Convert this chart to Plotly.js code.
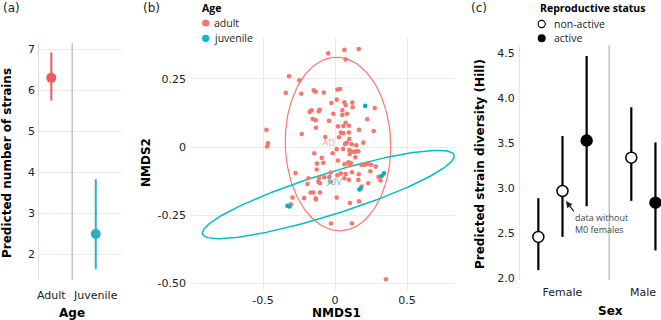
<!DOCTYPE html>
<html>
<head>
<meta charset="utf-8">
<script src="https://cdn.plot.ly/plotly-3.0.1.min.js"></script>
<style>
  html, body { margin: 0; padding: 0; background: #fff; }
  #chart { width: 661px; height: 320px; }
</style>
</head>
<body>
<div id="chart"></div>
<script>
// ---------- (a) predicted number of strains by age class ----------
const ageGroups   = ['Adult', 'Juvenile'];
const ageEstimate = [6.30, 2.49];
const ageLower    = [5.75, 1.63];
const ageUpper    = [6.92, 3.83];

// ---------- (b) NMDS ordination scores ----------
const adultNMDS1 = [-0.047,0.065,0.165,0.074,-0.319,-0.248,-0.342,-0.234,-0.148,-0.134,
  -0.078,0.016,0.035,0.012,-0.026,0.065,0.074,0.120,0.123,0.276,
  -0.162,-0.176,-0.113,-0.106,-0.012,0.051,0.051,0.083,0.224,-0.155,
  -0.134,-0.042,0.021,0.058,0.074,0.097,-0.132,0.167,0.269,-0.476,
  -0.465,-0.472,-0.231,-0.068,0.040,0.058,0.028,0.097,0.099,0.069,
  0.081,0.116,0.148,0.197,0.056,0.099,0.116,0.134,0.148,0.162,
  0.102,0.141,0.012,-0.016,-0.144,-0.092,0.021,-0.125,-0.081,0.066,
  0.092,0.104,0.111,0.183,0.205,0.226,0.250,0.283,-0.127,-0.274,
  -0.030,0.040,0.074,0.118,0.165,0.245,-0.185,-0.111,0.016,0.065,
  0.097,0.162,-0.116,-0.104,-0.030,0.231,0.303,-0.191,0.185,0.316,
  -0.040,-0.074,-0.169,-0.151,-0.104,-0.295,-0.215,-0.134,-0.132,0.012,
  0.104,0.167,-0.306,-0.028,0.118,0.354];
const adultNMDS2 = [0.344,0.357,0.360,0.322,0.260,0.245,0.199,0.196,0.208,0.203,
  0.200,0.211,0.213,0.174,0.162,0.164,0.154,0.163,0.146,0.143,
  0.135,0.129,0.131,0.137,0.122,0.135,0.118,0.122,0.102,0.103,
  0.098,0.096,0.076,0.077,0.089,0.078,0.071,0.063,0.059,0.063,
  0.014,0.002,0.048,0.037,0.053,0.051,0.036,0.053,0.029,0.011,
  0.015,0.010,0.006,0.016,-0.007,-0.011,-0.017,-0.018,-0.016,-0.016,
  -0.026,-0.038,-0.008,-0.023,-0.023,-0.040,-0.050,-0.061,-0.058,-0.063,
  -0.056,-0.067,-0.059,-0.065,-0.065,-0.062,-0.065,-0.072,-0.083,-0.096,
  -0.094,-0.097,-0.099,-0.093,-0.100,-0.089,-0.115,-0.114,-0.104,-0.115,
  -0.121,-0.121,-0.128,-0.133,-0.128,-0.133,-0.110,-0.136,-0.145,-0.123,
  -0.110,-0.111,-0.167,-0.167,-0.167,-0.186,-0.188,-0.189,-0.193,-0.186,
  -0.206,-0.200,-0.211,-0.281,-0.281,-0.486];
const juvenileNMDS1 = [0.210,0.170,0.177,0.324,0.340,-0.330,-0.315,-0.323];
const juvenileNMDS2 = [0.151,-0.156,-0.153,-0.107,-0.097,-0.216,-0.219,-0.217];

// group ellipses: centre plus the two conjugate semi-axis vectors
const adultEllipse    = { centre: [0.021, 0.011],    axisA: [0.366, 0.000], axisB: [-0.011, 0.319] };
const juvenileEllipse = { centre: [-0.0465, -0.1746], axisA: [0.873, 0.145], axisB: [0.0433, -0.0729] };
const groupLabels     = ['AD', 'JUV'];
const groupLabelNMDS1 = [-0.044, -0.005];
const groupLabelNMDS2 = [0.0136, -0.131];

// ---------- (c) predicted Hill diversity by sex and reproductive status ----------
const sexGroups    = ['Female', 'Male'];
const hillSex      = ['Female', 'Female', 'Female', 'Male', 'Male'];
const hillStatus   = ['non-active', 'non-active', 'active', 'non-active', 'active'];
const hillDodge    = [-0.30, 0.00, 0.30, -0.145, 0.155];
const hillEstimate = [2.46, 2.97, 3.53, 3.34, 2.84];
const hillLower    = [2.09, 2.46, 2.80, 2.86, 2.31];
const hillUpper    = [2.89, 3.58, 4.47, 3.90, 3.51];

// ---------- helpers ----------
const W = 661, H = 320;
const px = v => v / W;          // horizontal pixel -> paper
const py = v => 1 - v / H;      // vertical pixel -> paper

function ellipseTrace(e, n) {
  const xs = [], ys = [];
  for (let i = 0; i <= n; i++) {
    const t = 2 * Math.PI * i / n;
    xs.push(e.centre[0] + Math.cos(t) * e.axisA[0] + Math.sin(t) * e.axisB[0]);
    ys.push(e.centre[1] + Math.cos(t) * e.axisA[1] + Math.sin(t) * e.axisB[1]);
  }
  return { x: xs, y: ys };
}

const RED_A = '#F35B5B', BLUE_A = '#2AAFCB';
const RED_B = '#F8766D', CYAN_B = '#00BFC4';
const TICKFONT = { family: 'DejaVu Sans', size: 11, color: '#222' };
const SANS = 'Open Sans';

const traces = [];

// (a)
const ageColours = [RED_A, BLUE_A];
ageGroups.forEach((g, i) => {
  traces.push({
    type: 'scatter', mode: 'markers', xaxis: 'x', yaxis: 'y',
    x: [i + 1], y: [ageEstimate[i]],
    marker: { color: ageColours[i], size: 10 },
    error_y: { type: 'data', symmetric: false,
      array: [ageUpper[i] - ageEstimate[i]], arrayminus: [ageEstimate[i] - ageLower[i]],
      width: 0, thickness: 2, color: ageColours[i] },
    showlegend: false, hoverinfo: 'skip'
  });
});

// (b) ellipses, then points
const adE = ellipseTrace(adultEllipse, 160);
const juE = ellipseTrace(juvenileEllipse, 200);
traces.push({ type: 'scatter', mode: 'lines', xaxis: 'x2', yaxis: 'y2', x: adE.x, y: adE.y,
  line: { color: RED_B, width: 1.2 }, showlegend: false, hoverinfo: 'skip' });
traces.push({ type: 'scatter', mode: 'lines', xaxis: 'x2', yaxis: 'y2', x: juE.x, y: juE.y,
  line: { color: CYAN_B, width: 1.5 }, showlegend: false, hoverinfo: 'skip' });
traces.push({ type: 'scatter', mode: 'markers', xaxis: 'x2', yaxis: 'y2',
  x: adultNMDS1, y: adultNMDS2, marker: { color: RED_B, size: 4.6 }, showlegend: false, hoverinfo: 'skip' });
traces.push({ type: 'scatter', mode: 'markers', xaxis: 'x2', yaxis: 'y2',
  x: juvenileNMDS1, y: juvenileNMDS2, marker: { color: '#00B3B8', size: 4.6 }, showlegend: false, hoverinfo: 'skip' });
traces.push({ type: 'scatter', mode: 'text', xaxis: 'x2', yaxis: 'y2',
  x: groupLabelNMDS1, y: groupLabelNMDS2, text: groupLabels,
  textfont: { family: SANS, size: 9, color: ['#F9A29B', '#45C9CC'] },
  showlegend: false, hoverinfo: 'skip' });

// (c)
['non-active', 'active'].forEach(status => {
  const idx = hillStatus.map((s, i) => s === status ? i : -1).filter(i => i >= 0);
  traces.push({
    type: 'scatter', mode: 'markers', xaxis: 'x3', yaxis: 'y3',
    x: idx.map(i => sexGroups.indexOf(hillSex[i]) + 1 + hillDodge[i]),
    y: idx.map(i => hillEstimate[i]),
    marker: { size: 11, color: status === 'active' ? '#000' : '#fff', line: { color: '#000', width: 1.5 } },
    error_y: { type: 'data', symmetric: false,
      array: idx.map(i => hillUpper[i] - hillEstimate[i]),
      arrayminus: idx.map(i => hillEstimate[i] - hillLower[i]),
      width: 0, thickness: 2.2, color: '#000' },
    showlegend: false, hoverinfo: 'skip'
  });
});

const grid = '#ebebeb';
const layout = {
  width: W, height: H,
  margin: { l: 0, r: 0, t: 0, b: 0 },
  paper_bgcolor: '#fff', plot_bgcolor: '#fff',
  font: { family: 'DejaVu Sans', size: 11, color: '#222' },
  showlegend: false,
  // (a)
  xaxis: { domain: [px(39.3), px(122)], range: [0.73, 2.59], tickvals: [1, 2], ticktext: ageGroups,
    showgrid: false, zeroline: false, ticks: '', ticklabelstandoff: 7, tickfont: TICKFONT, fixedrange: true },
  yaxis: { domain: [py(280), py(43)], range: [1.37, 7.15], tickvals: [2, 3, 4, 5, 6, 7],
    showgrid: true, gridcolor: grid, gridwidth: 1, zeroline: false, ticks: '', ticklabelstandoff: 1,
    showline: true, linecolor: '#dcdcdc', linewidth: 1, tickfont: TICKFONT, fixedrange: true },
  // (b)
  xaxis2: { anchor: 'y2', domain: [px(190), px(455)], range: [-1.0069, 0.8333],
    tickvals: [-0.5, 0, 0.5], ticktext: ['-0.5', '0', '0.5'], ticklabelstandoff: 2,
    showgrid: true, gridcolor: grid, zeroline: false, ticks: '', tickfont: TICKFONT, fixedrange: true },
  yaxis2: { anchor: 'x2', domain: [py(290), py(38)], range: [-0.5257, 0.4007],
    tickvals: [-0.5, -0.25, 0, 0.25], ticktext: ['-0.50', '-0.25', '0', '0.25'], ticklabelstandoff: 3,
    showgrid: true, gridcolor: grid, zeroline: false, ticks: '', tickfont: TICKFONT, fixedrange: true },
  // (c)
  xaxis3: { anchor: 'y3', domain: [px(520), 1], range: [0.472, 2.224], tickvals: [1, 2], ticktext: sexGroups,
    showgrid: false, zeroline: false, ticks: '', ticklabelstandoff: 4, tickfont: TICKFONT, fixedrange: true },
  yaxis3: { anchor: 'x3', domain: [py(280), py(45)], range: [1.981, 4.592],
    tickvals: [2, 2.5, 3, 3.5, 4, 4.5], tickformat: '.1f', ticklabelstandoff: 2,
    showgrid: false, zeroline: false, ticks: '', showline: true, linecolor: '#e4e4e4', linewidth: 1,
    tickfont: TICKFONT, fixedrange: true },
  shapes: [
    // category separators
    { type: 'line', xref: 'x', yref: 'y domain', x0: 1.47, x1: 1.47, y0: 0, y1: 1,
      line: { color: '#b5b5b5', width: 1.2 } },
    { type: 'line', xref: 'x3', yref: 'y3 domain', x0: 1.58, x1: 1.58, y0: 0, y1: 1,
      line: { color: '#b5b5b5', width: 1.2 } },
    // legend keys
    { type: 'circle', xref: 'paper', yref: 'paper', xsizemode: 'pixel', ysizemode: 'pixel',
      xanchor: px(205.7), yanchor: py(23), x0: -3.6, x1: 3.6, y0: -3.6, y1: 3.6,
      fillcolor: RED_B, line: { width: 0 } },
    { type: 'circle', xref: 'paper', yref: 'paper', xsizemode: 'pixel', ysizemode: 'pixel',
      xanchor: px(205.7), yanchor: py(38.3), x0: -3.6, x1: 3.6, y0: -3.6, y1: 3.6,
      fillcolor: CYAN_B, line: { width: 0 } },
    { type: 'circle', xref: 'paper', yref: 'paper', xsizemode: 'pixel', ysizemode: 'pixel',
      xanchor: px(541.7), yanchor: py(24), x0: -3.6, x1: 3.6, y0: -3.6, y1: 3.6,
      fillcolor: '#fff', line: { color: '#000', width: 1.1 } },
    { type: 'circle', xref: 'paper', yref: 'paper', xsizemode: 'pixel', ysizemode: 'pixel',
      xanchor: px(541.7), yanchor: py(38.3), x0: -4, x1: 4, y0: -4, y1: 4,
      fillcolor: '#000', line: { width: 0 } }
  ],
  annotations: [
    // panel tags
    { text: '(a)', xref: 'paper', yref: 'paper', x: px(0.5), y: py(7.5), xanchor: 'left', yanchor: 'middle',
      showarrow: false, font: { family: 'DejaVu Sans', size: 12, color: '#222' } },
    { text: '(b)', xref: 'paper', yref: 'paper', x: px(141), y: py(7.5), xanchor: 'left', yanchor: 'middle',
      showarrow: false, font: { family: 'DejaVu Sans', size: 12, color: '#222' } },
    { text: '(c)', xref: 'paper', yref: 'paper', x: px(469), y: py(7.5), xanchor: 'left', yanchor: 'middle',
      showarrow: false, font: { family: 'DejaVu Sans', size: 12, color: '#222' } },
    // axis titles
    { text: '<b>Predicted number of strains</b>', xref: 'paper', yref: 'paper', x: px(7), y: py(163),
      xanchor: 'center', yanchor: 'middle', textangle: -90, showarrow: false,
      font: { family: 'DejaVu Sans', size: 12, color: '#000' } },
    { text: '<b>Age</b>', xref: 'paper', yref: 'paper', x: px(72), y: py(312.5),
      xanchor: 'center', yanchor: 'middle', showarrow: false, font: { family: 'DejaVu Sans', size: 12, color: '#000' } },
    { text: '<b>NMDS2</b>', xref: 'paper', yref: 'paper', x: px(146), y: py(163),
      xanchor: 'center', yanchor: 'middle', textangle: -90, showarrow: false,
      font: { family: 'DejaVu Sans', size: 12, color: '#000' } },
    { text: '<b>NMDS1</b>', xref: 'paper', yref: 'paper', x: px(336.5), y: py(313),
      xanchor: 'center', yanchor: 'middle', showarrow: false, font: { family: 'DejaVu Sans', size: 12, color: '#000' } },
    { text: '<b>Predicted strain diversity (Hill)</b>', xref: 'paper', yref: 'paper', x: px(480), y: py(164),
      xanchor: 'center', yanchor: 'middle', textangle: -90, showarrow: false,
      font: { family: 'DejaVu Sans', size: 12, color: '#000' } },
    { text: '<b>Sex</b>', xref: 'paper', yref: 'paper', x: px(610), y: py(311),
      xanchor: 'center', yanchor: 'middle', showarrow: false, font: { family: 'DejaVu Sans', size: 12, color: '#000' } },
    // legend texts
    { text: '<b>Age</b>', xref: 'paper', yref: 'paper', x: px(200), y: py(7.5), xanchor: 'left', yanchor: 'middle',
      showarrow: false, font: { family: SANS, size: 10.5, color: '#000' } },
    { text: 'adult', xref: 'paper', yref: 'paper', x: px(212.5), y: py(23), xanchor: 'left', yanchor: 'middle',
      showarrow: false, font: { family: SANS, size: 10.5, color: '#222' } },
    { text: 'juvenile', xref: 'paper', yref: 'paper', x: px(212.5), y: py(38), xanchor: 'left', yanchor: 'middle',
      showarrow: false, font: { family: SANS, size: 10.5, color: '#222' } },
    { text: '<b>Reproductive status</b>', xref: 'paper', yref: 'paper', x: px(537.5), y: py(7.5),
      xanchor: 'left', yanchor: 'middle', showarrow: false, font: { family: SANS, size: 10.5, color: '#000' } },
    { text: 'non-active', xref: 'paper', yref: 'paper', x: px(551.5), y: py(23.5), xanchor: 'left', yanchor: 'middle',
      showarrow: false, font: { family: SANS, size: 10.5, color: '#222' } },
    { text: 'active', xref: 'paper', yref: 'paper', x: px(551.5), y: py(38), xanchor: 'left', yanchor: 'middle',
      showarrow: false, font: { family: SANS, size: 10.5, color: '#222' } },
    // note on the M0-excluded estimate
    { text: 'data without<br>M0 females', xref: 'x3', yref: 'y3', x: 1.127, y: 2.614,
      xanchor: 'left', yanchor: 'middle', align: 'left', showarrow: false,
      font: { family: SANS, size: 9, color: '#444' } },
    { text: '', xref: 'x3', yref: 'y3', x: 1.043, y: 2.859, ax: 9, ay: 12,
      showarrow: true, arrowhead: 2, arrowsize: 1, arrowwidth: 1.3, arrowcolor: '#222' }
  ]
};

Plotly.newPlot('chart', traces, layout, { staticPlot: true, displayModeBar: false });
</script>
</body>
</html>
